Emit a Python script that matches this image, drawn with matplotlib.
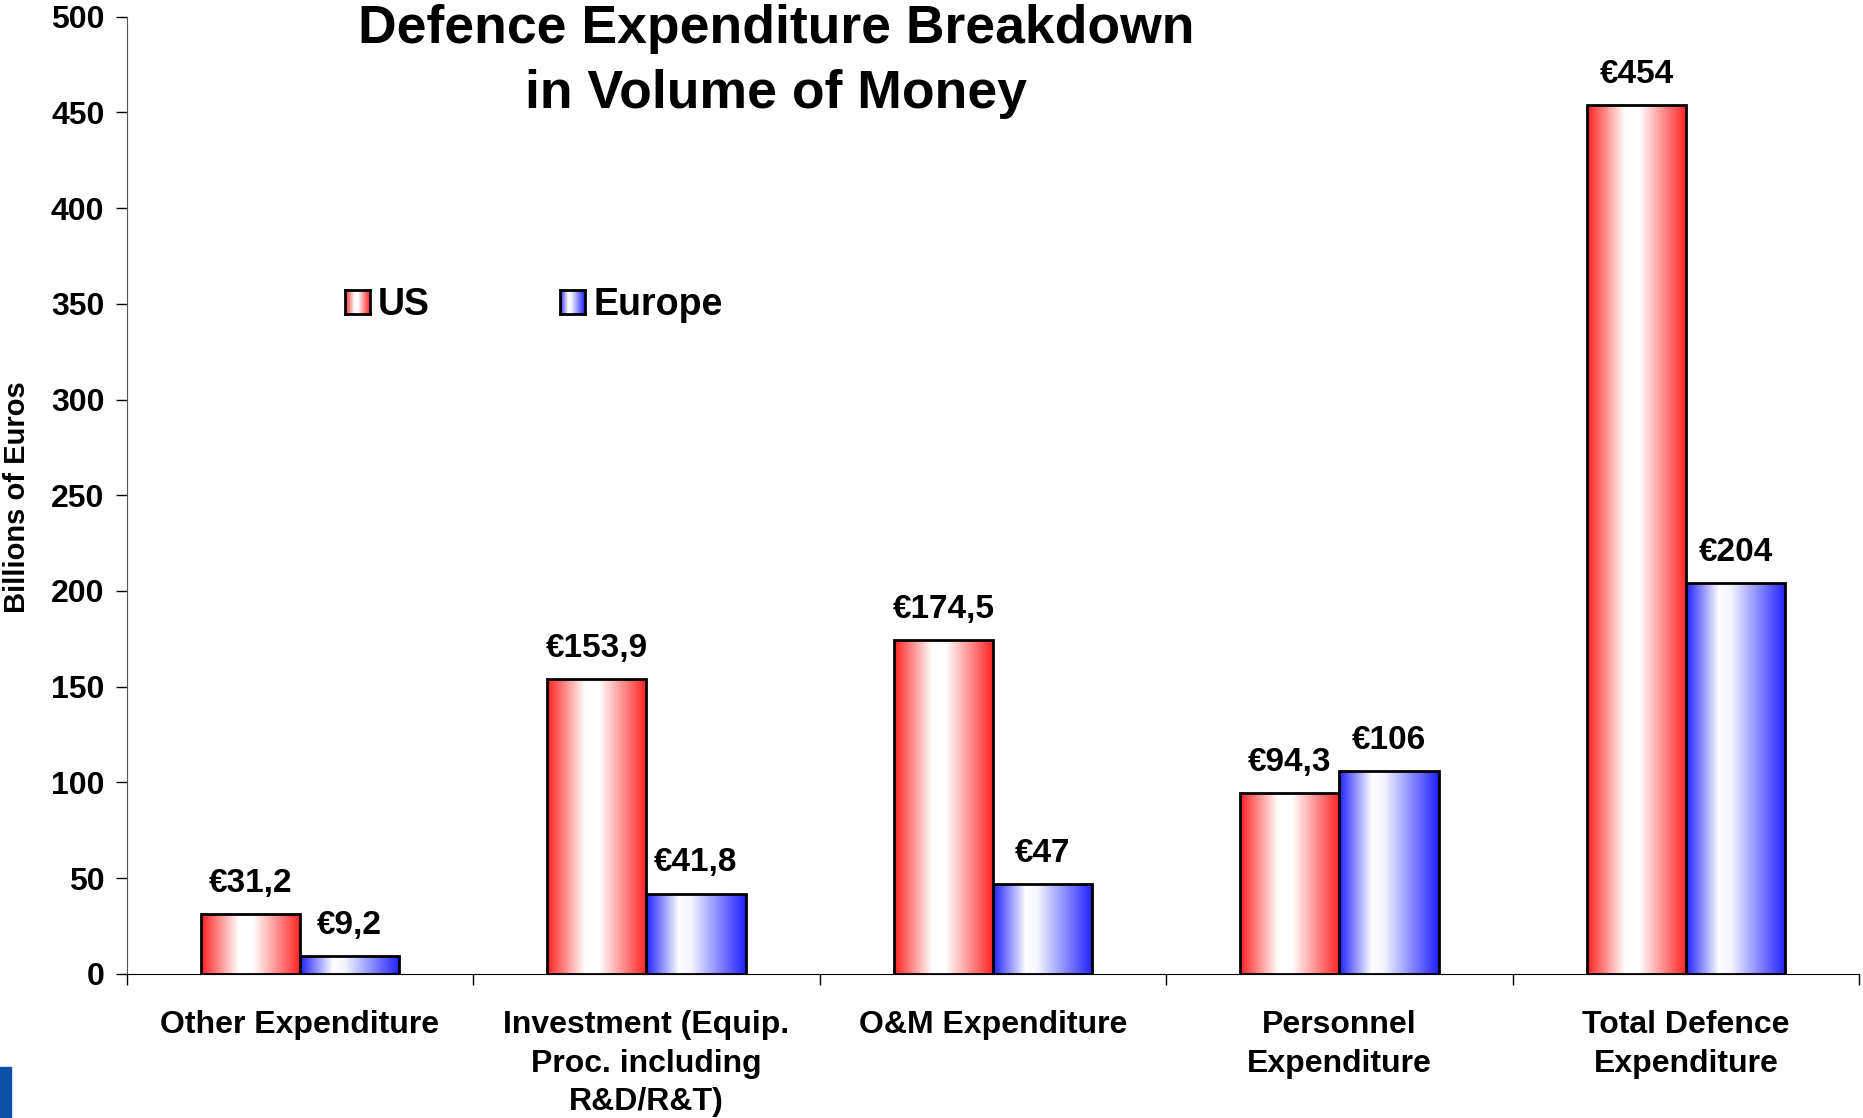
import numpy as np
import matplotlib
matplotlib.use("Agg")
import matplotlib.pyplot as plt
from matplotlib.colors import LinearSegmentedColormap
from matplotlib.patches import Rectangle

plt.rcParams['font.family'] = ['Liberation Sans', 'DejaVu Sans']
plt.rcParams['font.weight'] = 'bold'

categories = ["Other Expenditure",
              "Investment (Equip.\nProc. including\nR&D/R&T)",
              "O&M Expenditure",
              "Personnel\nExpenditure",
              "Total Defence\nExpenditure"]
us = [31.2, 153.9, 174.5, 94.3, 454]
europe = [9.2, 41.8, 47, 106, 204]
series_names = ["US", "Europe"]

red_cmap = LinearSegmentedColormap.from_list(
    "red_grad", [(0, "#ff2020"), (0.38, "#ffffff"), (0.52, "#ffffff"), (1, "#ff2020")])
blue_cmap = LinearSegmentedColormap.from_list(
    "blue_grad", [(0, "#2020ff"), (0.33, "#ffffff"), (0.45, "#f4f4ff"), (1, "#2020ff")])
grad = np.linspace(0, 1, 256).reshape(1, -1)

fig = plt.figure(figsize=(18.63, 11.18), dpi=100)
ax = fig.add_axes([0.068, 0.129, 0.93, 0.856])

x = np.arange(len(categories))
w = 0.286


def fmt(v):
    s = f"{v:g}".replace(".", ",")
    return "€" + s


for vals, off, cmap in [(us, -w / 2, red_cmap), (europe, w / 2, blue_cmap)]:
    bars = ax.bar(x + off, vals, w, facecolor="none", edgecolor="black",
                  linewidth=2, zorder=3)
    for bar, v in zip(bars, vals):
        bx, by = bar.get_x(), bar.get_y()
        bw, bh = bar.get_width(), bar.get_height()
        im = ax.imshow(grad, cmap=cmap, extent=[bx, bx + bw, by, by + bh],
                       aspect="auto", zorder=2, interpolation="bilinear")
        im.set_clip_path(bar)
        ax.annotate(fmt(v), (bx + bw / 2, by + bh), xytext=(0, 11),
                    textcoords="offset points", ha="center", va="bottom",
                    fontsize=24, fontweight="bold")

ax.set_xlim(-0.5, len(categories) - 0.5)
ax.set_ylim(0, 500)
ax.set_yticks(np.arange(0, 501, 50))
ax.tick_params(axis="y", labelsize=23, length=8, width=1, pad=8)
ax.set_xticks(np.arange(-0.5, len(categories), 1))
ax.set_xticklabels([])
ax.tick_params(axis="x", which="major", length=8, width=1)
ax.set_xticks(x, minor=True)
ax.set_xticklabels(categories, minor=True, fontsize=23, fontweight="bold",
                   linespacing=1.38, va="top")
ax.tick_params(axis="x", which="minor", length=0, pad=26)
for s in ["top", "right"]:
    ax.spines[s].set_visible(False)
ax.spines["left"].set_color("#555555")
ax.spines["bottom"].set_color("black")

fig.text(17 / 1863, 1 - 497 / 1118, "Billions of Euros", rotation=90,
         ha="center", va="center", fontsize=21, fontweight="bold")

fig.text(776 / 1863, 0.996, "Defence Expenditure Breakdown\nin Volume of Money",
         ha="center", va="top", fontsize=38.5, fontweight="bold", linespacing=1.38)

# legend
for name, cmap, lx, tx in [(series_names[0], red_cmap, 345, 378),
                            (series_names[1], blue_cmap, 560, 594)]:
    lax = fig.add_axes([lx / 1863, 1 - 314 / 1118, 25 / 1863, 24 / 1118])
    lax.imshow(grad, cmap=cmap, aspect="auto", interpolation="bilinear")
    lax.set_xticks([])
    lax.set_yticks([])
    for sp in lax.spines.values():
        sp.set_linewidth(2)
    fig.text(tx / 1863, 1 - 305 / 1118, name, ha="left", va="center",
             fontsize=27, fontweight="bold")

fig.patches.append(Rectangle((0, 0), 11 / 1863, 51 / 1118,
                             transform=fig.transFigure, color="#0d4ea6"))

fig.savefig("out.png", dpi=100)
